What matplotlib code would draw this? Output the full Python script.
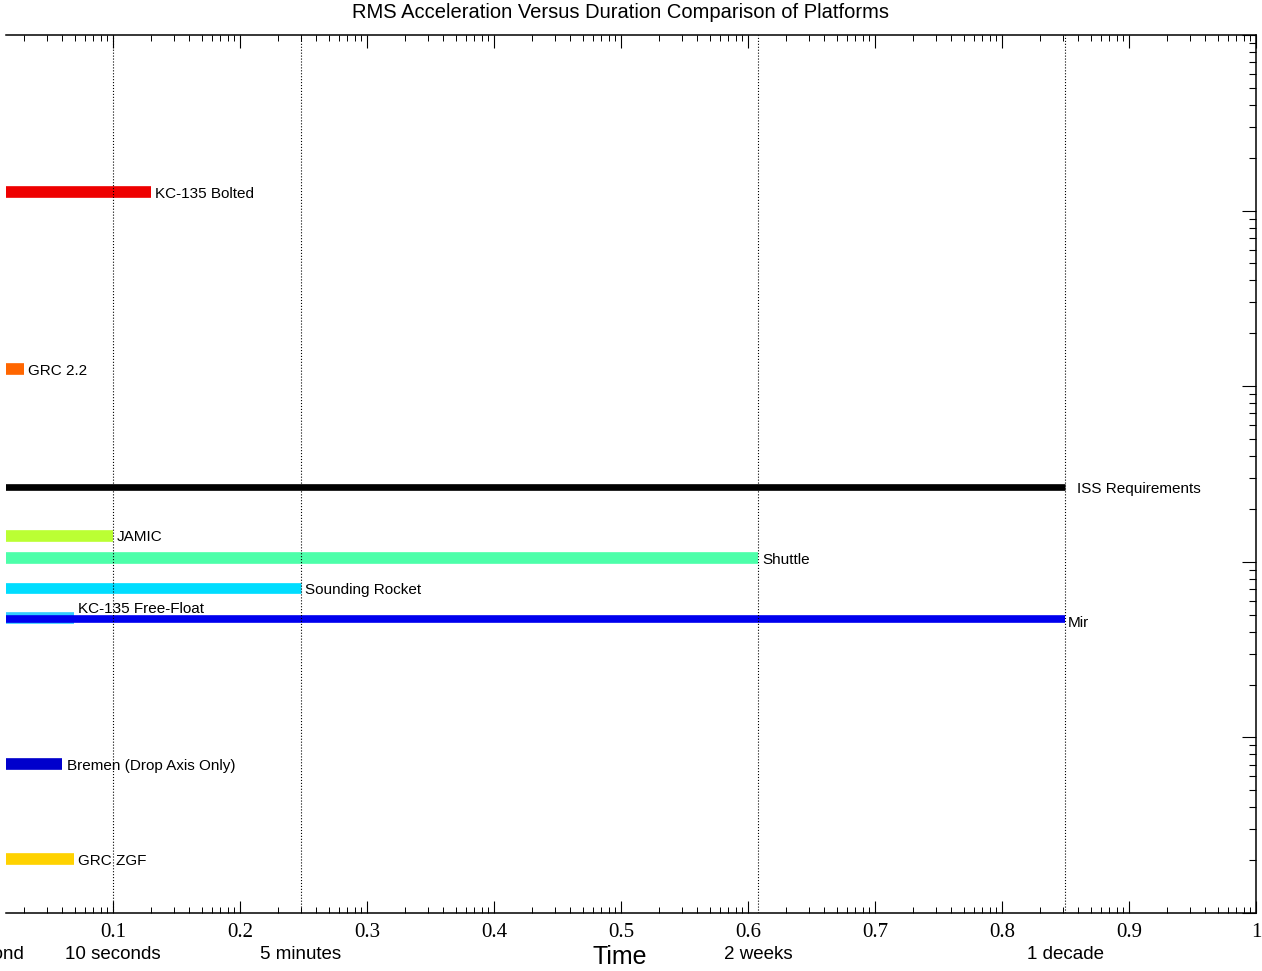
import numpy as np
import matplotlib
matplotlib.use("Agg")
from matplotlib import pyplot as plt
from matplotlib.ticker import LogLocator, FixedLocator, FixedFormatter, NullFormatter
import matplotlib.transforms as mtransforms

# platform data: duration in seconds, rms acceleration in g
platforms = ['KC-135 Bolted', 'GRC 2.2', 'ISS Requirements', 'JAMIC', 'Shuttle',
             'Sounding Rocket', 'KC-135 Free-Float', 'Mir',
             'Bremen (Drop Axis Only)', 'GRC ZGF']
duration_s = [20, 2.0, 3.156e8, 10, 1.2096e6, 300, 4.9, 3.156e8, 4.0, 4.9]
rms_g = [1.27e-3, 1.25e-4, 2.66e-5, 1.41e-5, 1.05e-5, 7.05e-6, 4.8e-6, 4.71e-6,
         7.03e-7, 2.03e-7]
colors = ['#ee0000', '#ff6600', '#000000', '#bbff33', '#4dffaa', '#00ddff',
          '#33ccff', '#0000ee', '#0000cc', '#ffd200']
widths = [8.4, 8.4, 4.8, 8.4, 8.4, 7.7, 8.4, 5.5, 8.4, 8.4]
label_offsets = [(3, -1.2), (3, -1.2), (8, -1.2), (3, -1.2), (3, -1.2), (3, -1.2),
                 (3, 6), (2, -3), (3, -1.2), (3, -1.2)]

# reference durations
ref_names = ['1 second', '10 seconds', '5 minutes', '2 weeks', '1 decade']
ref_seconds = [1, 10, 300, 1.2096e6, 3.156e8]

# tick labels on the decade ticks
tick_pos = [1e1, 1e2, 1e3, 1e4, 1e5, 1e6, 1e7, 1e8, 1e9, 1e10]
tick_text = ['0.1', '0.2', '0.3', '0.4', '0.5', '0.6', '0.7', '0.8', '0.9', '1']

plt.rcParams['font.family'] = ['Liberation Sans', 'DejaVu Sans']

fig = plt.figure(figsize=(12.62, 9.71), dpi=100)
ax = fig.add_axes([6 / 1262, 1 - 913 / 971, 1250 / 1262, 878 / 971])

ax.set_xscale('log')
ax.set_yscale('log')
ax.set_xlim(10 ** 0.1575, 1e10)
ax.set_ylim(1e-7, 1e-2)

for i, name in enumerate(platforms):
    ax.hlines(rms_g[i], 1, duration_s[i], color=colors[i], lw=widths[i],
              capstyle='butt', zorder=2 if i != 6 else 1.5)
    ax.annotate(name, (duration_s[i], rms_g[i]), xytext=label_offsets[i],
                textcoords='offset points', va='center', ha='left', fontsize=11)

for s in ref_seconds[1:]:
    ax.axvline(s, color='black', ls=':', lw=0.8, zorder=3)

# tick setup
ax.xaxis.set_major_locator(FixedLocator(tick_pos))
ax.xaxis.set_major_formatter(FixedFormatter(tick_text))
ax.xaxis.set_minor_locator(LogLocator(base=10, subs=np.arange(2, 10), numticks=20))
ax.xaxis.set_minor_formatter(NullFormatter())
ax.tick_params(axis='x', which='both', direction='in', top=True, bottom=True)
ax.tick_params(axis='x', which='major', length=9, width=0.8, pad=7, labelsize=15,
               labelfontfamily='Liberation Serif')
ax.tick_params(axis='x', which='minor', length=4, width=0.7)

ax.yaxis.set_major_locator(LogLocator(base=10, numticks=10))
ax.yaxis.set_minor_locator(LogLocator(base=10, subs=np.arange(2, 10), numticks=20))
ax.yaxis.set_major_formatter(NullFormatter())
ax.yaxis.set_minor_formatter(NullFormatter())
ax.tick_params(axis='y', which='both', direction='in', left=False, right=True,
               labelleft=False, labelright=False)
ax.tick_params(axis='y', which='major', length=10, width=0.8)
ax.tick_params(axis='y', which='minor', length=5, width=0.8)

ax.spines['left'].set_visible(False)
for side in ['top', 'right', 'bottom']:
    ax.spines[side].set_linewidth(1.1)

trans = mtransforms.blended_transform_factory(ax.transData, fig.transFigure)
for name, s in zip(ref_names, ref_seconds):
    ax.text(s, 1 - 954 / 971, name, transform=trans, ha='center', va='center',
            fontsize=13.5, clip_on=False)

fig.text(620 / 1262, 1 - 957 / 971, 'Time', ha='center', va='center', fontsize=18)
fig.text(620 / 1262, 1 - 13 / 971, 'RMS Acceleration Versus Duration Comparison of Platforms',
         ha='center', va='center', fontsize=14.5)

fig.savefig('out.png', dpi=100)
